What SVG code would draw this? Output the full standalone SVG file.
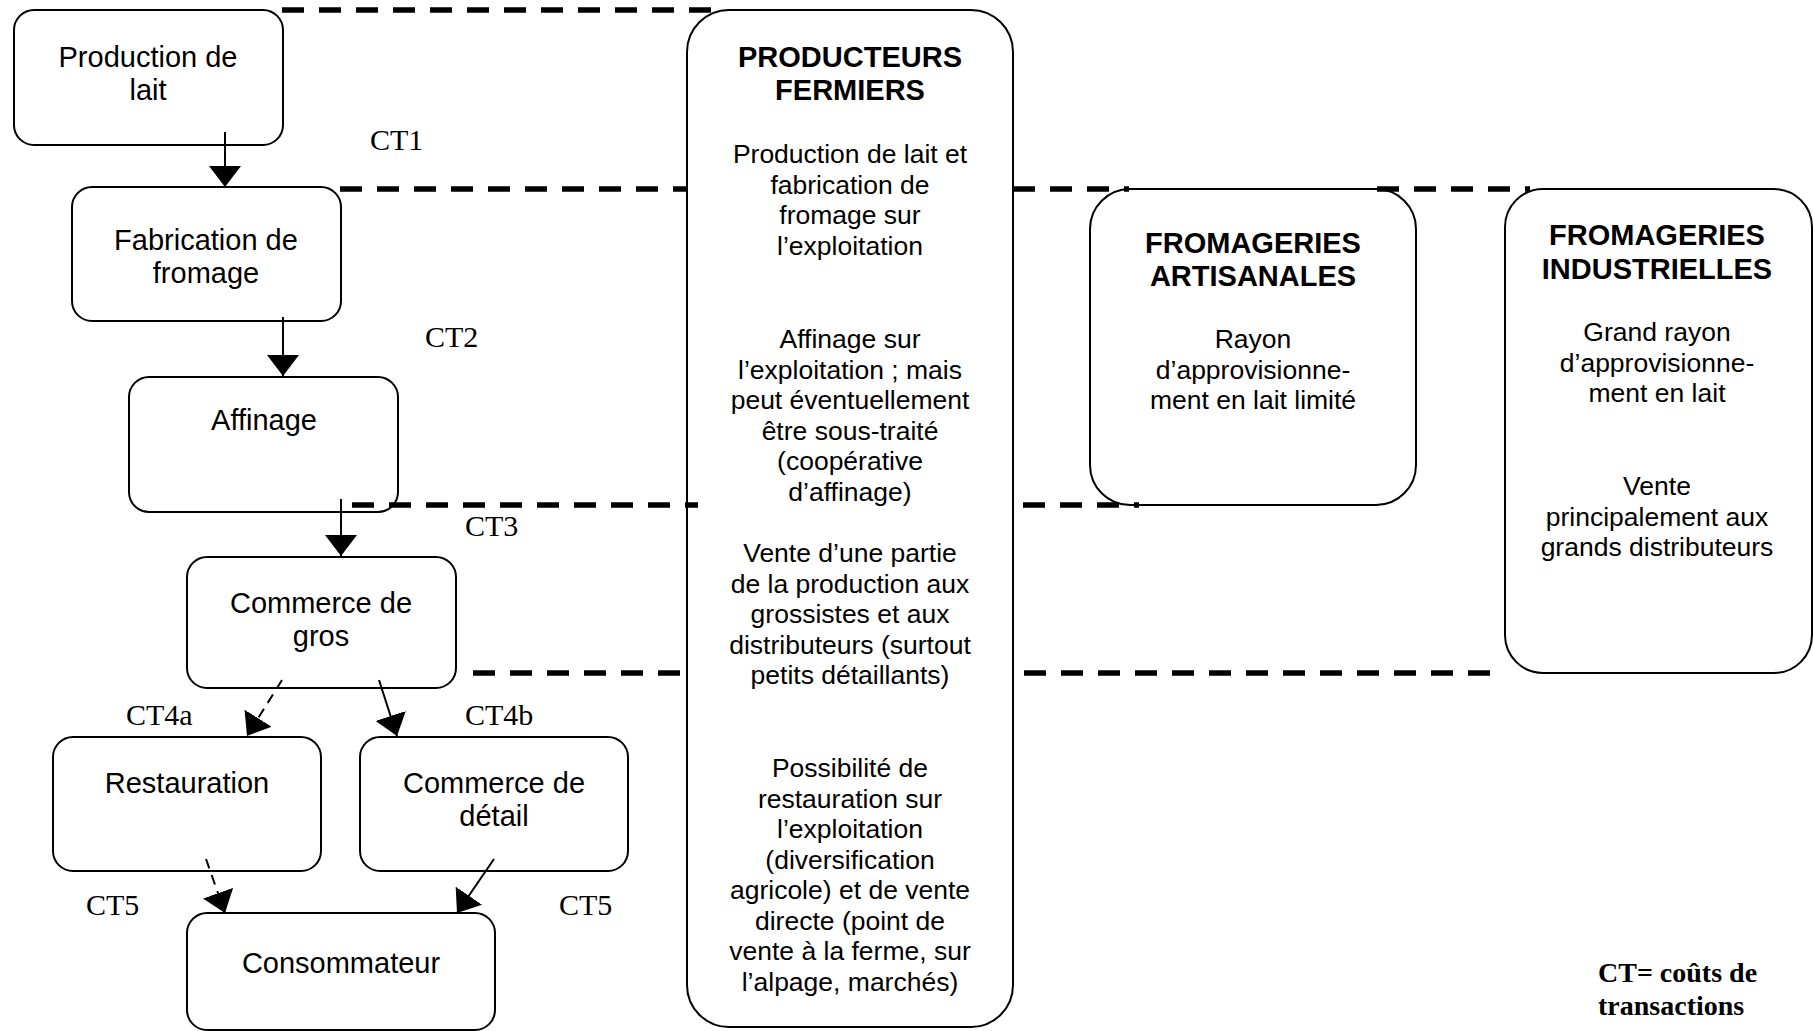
<svg xmlns="http://www.w3.org/2000/svg" width="1813" height="1031" viewBox="0 0 1813 1031">
<style>
.box{fill:#fff;stroke:#000;stroke-width:2}
.nt{font-family:"Liberation Sans",Arial,sans-serif;font-size:29px;fill:#000;text-anchor:middle}
.bt{font-family:"Liberation Sans",Arial,sans-serif;font-size:26.5px;fill:#000;text-anchor:middle}
.tt{font-family:"Liberation Sans",Arial,sans-serif;font-size:29px;font-weight:bold;fill:#000;text-anchor:middle}
.ct{font-family:"Liberation Serif","Times New Roman",serif;font-size:30px;fill:#000}
.note{font-family:"Liberation Serif","Times New Roman",serif;font-size:28px;font-weight:bold;fill:#000}
.sep{fill:none;stroke:#000;stroke-width:5.5;stroke-dasharray:22 15}
.arr{fill:none;stroke:#000;stroke-width:2;marker-end:url(#ah)}
.arrd{fill:none;stroke:#000;stroke-width:2;stroke-dasharray:10 7;marker-end:url(#ah)}
</style>
<defs>
<marker id="ah" markerUnits="userSpaceOnUse" viewBox="0 0 21 32" refX="21" refY="16" markerWidth="21" markerHeight="32" orient="auto">
<path d="M0,0 L21,16 L0,32 Z" fill="#000"/>
</marker>
</defs>
<rect width="1813" height="1031" fill="#fff"/>

<g id="production">
<rect class="box" x="14" y="10" width="269" height="135" rx="20"/>
<text class="nt" x="148" y="67">Production de</text>
<text class="nt" x="148" y="100">lait</text>
</g>
<g id="fabrication">
<rect class="box" x="72" y="187" width="269" height="134" rx="20"/>
<text class="nt" x="206" y="250">Fabrication de</text>
<text class="nt" x="206" y="283">fromage</text>
</g>
<g id="affinage">
<rect class="box" x="129" y="377" width="269" height="135" rx="20"/>
<text class="nt" x="264" y="430">Affinage</text>
</g>
<g id="gros">
<rect class="box" x="187" y="557" width="269" height="131" rx="20"/>
<text class="nt" x="321" y="613">Commerce de</text>
<text class="nt" x="321" y="646">gros</text>
</g>
<g id="restauration">
<rect class="box" x="53" y="737" width="268" height="134" rx="20"/>
<text class="nt" x="187" y="793">Restauration</text>
</g>
<g id="detail">
<rect class="box" x="360" y="737" width="268" height="134" rx="20"/>
<text class="nt" x="494" y="793">Commerce de</text>
<text class="nt" x="494" y="826">détail</text>
</g>
<g id="consommateur">
<rect class="box" x="187" y="913" width="308" height="117" rx="20"/>
<text class="nt" x="341" y="973">Consommateur</text>
</g>

<g id="producteurs">
<rect class="box" x="687" y="10" width="326" height="1017" rx="42"/>
<text class="tt" x="850" y="67">PRODUCTEURS</text>
<text class="tt" x="850" y="100">FERMIERS</text>
<text class="bt" x="850" y="163">Production de lait et</text>
<text class="bt" x="850" y="193.5">fabrication de</text>
<text class="bt" x="850" y="224">fromage sur</text>
<text class="bt" x="850" y="254.5">l’exploitation</text>
<text class="bt" x="850" y="348">Affinage sur</text>
<text class="bt" x="850" y="378.5">l’exploitation ; mais</text>
<text class="bt" x="850" y="409">peut éventuellement</text>
<text class="bt" x="850" y="439.5">être sous-traité</text>
<text class="bt" x="850" y="470">(coopérative</text>
<text class="bt" x="850" y="500.5">d’affinage)</text>
<text class="bt" x="850" y="562">Vente d’une partie</text>
<text class="bt" x="850" y="592.5">de la production aux</text>
<text class="bt" x="850" y="623">grossistes et aux</text>
<text class="bt" x="850" y="653.5">distributeurs (surtout</text>
<text class="bt" x="850" y="684">petits détaillants)</text>
<text class="bt" x="850" y="777">Possibilité de</text>
<text class="bt" x="850" y="807.5">restauration sur</text>
<text class="bt" x="850" y="838">l’exploitation</text>
<text class="bt" x="850" y="868.5">(diversification</text>
<text class="bt" x="850" y="899">agricole) et de vente</text>
<text class="bt" x="850" y="929.5">directe (point de</text>
<text class="bt" x="850" y="960">vente à la ferme, sur</text>
<text class="bt" x="850" y="990.5">l’alpage, marchés)</text>
</g>

<g id="artisanales">
<rect class="box" x="1090" y="189" width="326" height="316" rx="40"/>
<text class="tt" x="1253" y="253">FROMAGERIES</text>
<text class="tt" x="1253" y="286">ARTISANALES</text>
<text class="bt" x="1253" y="348">Rayon</text>
<text class="bt" x="1253" y="379">d’approvisionne-</text>
<text class="bt" x="1253" y="409">ment en lait limité</text>
</g>

<g id="industrielles">
<rect class="box" x="1505" y="189" width="307" height="484" rx="38"/>
<text class="tt" x="1657" y="245">FROMAGERIES</text>
<text class="tt" x="1657" y="279">INDUSTRIELLES</text>
<text class="bt" x="1657" y="341">Grand rayon</text>
<text class="bt" x="1657" y="372">d’approvisionne-</text>
<text class="bt" x="1657" y="402">ment en lait</text>
<text class="bt" x="1657" y="494.5">Vente</text>
<text class="bt" x="1657" y="525.5">principalement aux</text>
<text class="bt" x="1657" y="555.5">grands distributeurs</text>
</g>

<g id="connectors">
<line class="sep" x1="282" y1="10" x2="711" y2="10"/>
<line class="sep" x1="340" y1="189" x2="687" y2="189"/>
<line class="sep" x1="1013" y1="189" x2="1129" y2="189"/>
<line class="sep" x1="1377" y1="189" x2="1530" y2="189"/>
<line class="sep" x1="352" y1="505" x2="698" y2="505"/>
<line class="sep" x1="1023" y1="505" x2="1139" y2="505"/>
<line class="sep" x1="473" y1="673" x2="680" y2="673"/>
<line class="sep" x1="1024" y1="673" x2="1490" y2="673"/>

<line class="arr" x1="225" y1="132" x2="225" y2="187"/>
<line class="arr" x1="283" y1="317" x2="283" y2="376"/>
<line class="arr" x1="341" y1="499" x2="341" y2="556"/>
<line class="arrd" x1="282" y1="680" x2="247" y2="736"/>
<line class="arr" x1="379" y1="680" x2="397" y2="736"/>
<line class="arrd" x1="206" y1="859" x2="225" y2="913"/>
<line class="arr" x1="494" y1="859" x2="457" y2="913"/>
</g>

<g id="labels">
<text class="ct" x="370" y="150">CT1</text>
<text class="ct" x="425" y="347">CT2</text>
<text class="ct" x="465" y="536">CT3</text>
<text class="ct" x="126" y="725">CT4a</text>
<text class="ct" x="465" y="725">CT4b</text>
<text class="ct" x="86" y="915">CT5</text>
<text class="ct" x="559" y="915">CT5</text>
<text class="note" x="1598" y="982">CT= coûts de</text>
<text class="note" x="1598" y="1015">transactions</text>
</g>
</svg>
